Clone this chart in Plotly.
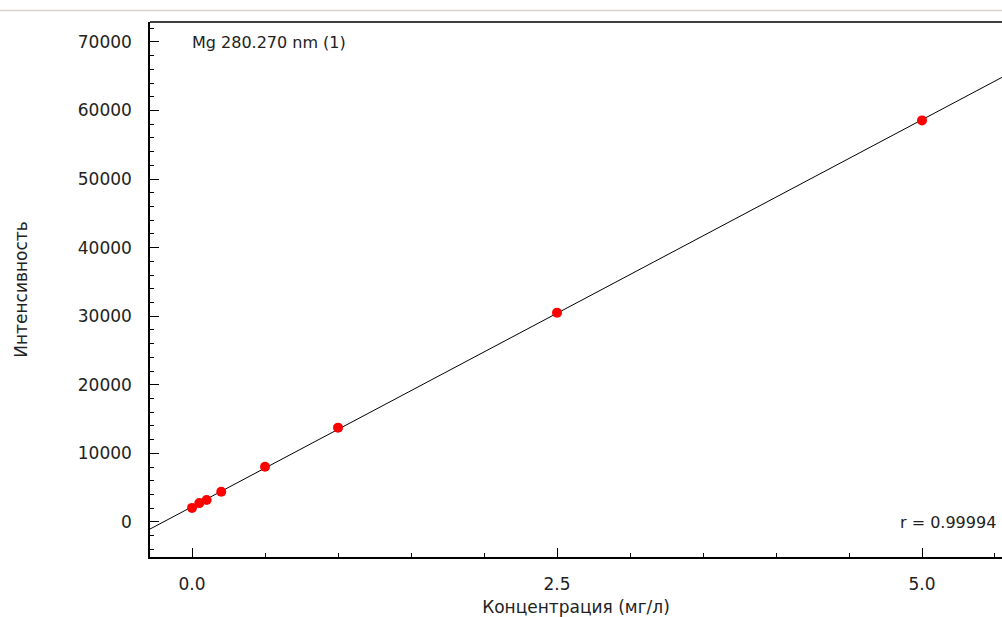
import numpy as np
import plotly.graph_objects as go

# Data
conc = [0.0, 0.05, 0.1, 0.2, 0.5, 1.0, 2.5, 5.0]
intensity = [2050, 2750, 3200, 4400, 8050, 13750, 30500, 58550]
title_text = "Mg 280.270 nm (1)"
r_text = "r = 0.99994"
x_title = "Концентрация (мг/л)"
y_title = "Интенсивность"
x_ticks = [0.0, 2.5, 5.0]
x_ticklabels = ["0.0", "2.5", "5.0"]
y_ticks = [0, 10000, 20000, 30000, 40000, 50000, 60000, 70000]

x_range = [-0.288, 5.548]
y_range = [-5110, 72900]

slope, intercept = np.polyfit(conc, intensity, 1)
line_x = np.array(x_range)
line_y = slope * line_x + intercept

font = "DejaVu Sans, Liberation Sans, sans-serif"
tc = "#222"

fig = go.Figure()
fig.add_trace(go.Scatter(x=line_x, y=line_y, mode="lines",
                         line=dict(color="black", width=1), showlegend=False, hoverinfo="skip"))
fig.add_trace(go.Scatter(x=conc, y=intensity, mode="markers",
                         marker=dict(color="#ff0000", size=10), showlegend=False))

W, H = 1002, 617
L, R, T, B = 150, 0, 22, 60
pw, ph = W - L - R, H - T - B

fig.update_layout(
    width=W, height=H,
    margin=dict(l=L, r=R, t=T, b=B),
    paper_bgcolor="white", plot_bgcolor="white",
    font=dict(family=font, size=17, color=tc),
    xaxis=dict(range=x_range, showgrid=False, zeroline=False, showline=True,
               linecolor="black", linewidth=1.5, ticks="inside", ticklen=9,
               tickcolor="black", tickvals=x_ticks, ticktext=x_ticklabels,
               ticklabelstandoff=11,
               minor=dict(dtick=0.5, ticks="inside", ticklen=4, tickcolor="black"),
               title=dict(text=x_title, font=dict(size=17), standoff=8)),
    yaxis=dict(range=y_range, showgrid=False, zeroline=False, showline=True,
               linecolor="black", linewidth=1.5, ticks="inside", ticklen=9,
               tickcolor="black", tickvals=y_ticks, tickformat="d", ticklabelstandoff=13,
               minor=dict(dtick=2000, ticks="inside", ticklen=4, tickcolor="black"),
               title=dict(text=y_title, font=dict(size=17), standoff=46)),
    shapes=[
        dict(type="line", xref="paper", yref="paper", x0=0, x1=1, y0=1, y1=1,
             line=dict(color="black", width=1.5)),
        dict(type="line", xref="paper", yref="paper", x0=-L / pw, x1=1,
             y0=1 + 11.5 / ph, y1=1 + 11.5 / ph, line=dict(color="#d8d4cc", width=1.5)),
    ],
    annotations=[
        dict(text=title_text, xref="paper", yref="paper", x=40 / pw, y=1 - 9 / ph,
             xanchor="left", yanchor="top", showarrow=False, font=dict(size=16, color=tc)),
        dict(text=r_text, xref="paper", yref="paper", x=1 - 4 / pw, y=35 / ph,
             xanchor="right", yanchor="middle", showarrow=False, font=dict(size=16, color=tc)),
    ],
)

fig.write_html("out.html", config={"displayModeBar": False},
               post_script="document.body.style.margin='0';document.body.style.overflow='hidden';")
